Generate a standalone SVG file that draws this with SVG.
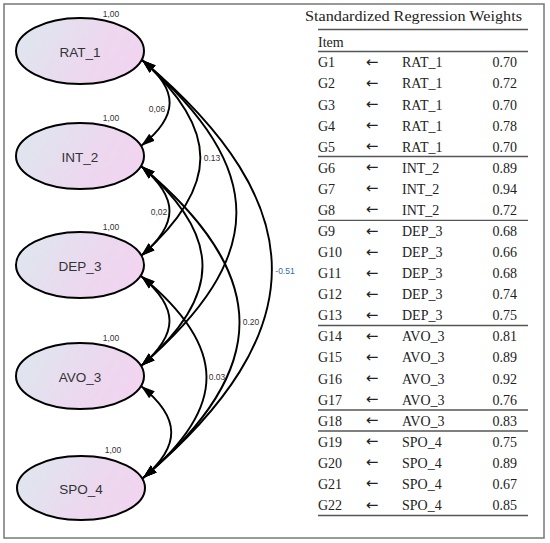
<svg xmlns="http://www.w3.org/2000/svg" width="550" height="543" viewBox="0 0 550 543">
  <defs>
    <linearGradient id="fillGrad" x1="0" y1="0.35" x2="1" y2="0.65">
      <stop offset="0" stop-color="#dfe6ef"/>
      <stop offset="0.6" stop-color="#ecd8ef"/>
      <stop offset="1" stop-color="#f2d4f0"/>
    </linearGradient>
    <marker id="arrow" markerUnits="userSpaceOnUse" markerWidth="15" markerHeight="10" refX="14" refY="5" orient="auto-start-reverse">
      <path d="M0,0.5 L14,5 L0,9.5 z" fill="#000"/>
    </marker>
    <style>
      .node ellipse { fill: url(#fillGrad); stroke: #000; stroke-width: 2; }
      .nlabel { font-family: "Liberation Sans", Arial, sans-serif; font-size: 13.5px; fill: #333; text-anchor: middle; }
      .var { font-family: "Liberation Sans", Arial, sans-serif; font-size: 8.5px; fill: #333; text-anchor: middle; }
      .cov { font-family: "Liberation Sans", Arial, sans-serif; font-size: 8.5px; fill: #333; text-anchor: middle; }
      .neg { fill: #2f6e9e; }
      .conn path { fill: none; stroke: #000; stroke-width: 1.9; marker-start: url(#arrow); marker-end: url(#arrow); }
      .tbl { font-family: "Liberation Serif", "Times New Roman", serif; font-size: 14px; fill: #222; }
      .arr { font-family: "DejaVu Sans", sans-serif; font-size: 15px; fill: #222; text-anchor: middle; }
      .val { text-anchor: end; }
      .rule { stroke: #555; stroke-width: 1.3; }
    </style>
  </defs>

  <rect x="4" y="4" width="540" height="534" fill="#fff" stroke="#777" stroke-width="1.5"/>

  <!-- connectors -->
  <g id="connectors" class="conn">
    <path d="M142,60 C179,90 179,116 141,146"/>
    <path d="M142,60 C220,130 220,186 141,256"/>
    <path d="M142,60 C268,170 268,256 141,366"/>
    <path d="M142,60 C315,206 315,332 143,478"/>
    <path d="M141,166 C179,198 179,224 141,256"/>
    <path d="M141,166 C223,236 223,296 141,366"/>
    <path d="M141,166 C272,275 272,369 143,478"/>
    <path d="M141,276 C179,308 179,334 141,366"/>
    <path d="M141,276 C228,347 228,407 143,478"/>
    <path d="M141,386 C181,418 181,446 143,478"/>
  </g>

  <!-- covariance labels -->
  <g id="cov-labels">
    <text class="cov" x="157" y="112">0,06</text>
    <text class="cov" x="212" y="161">0.13</text>
    <text class="cov" x="159" y="215">0,02</text>
    <text class="cov neg" x="285" y="274">-0.51</text>
    <text class="cov" x="251" y="325">0.20</text>
    <text class="cov" x="217" y="380">0.03</text>
  </g>

  <!-- nodes -->
  <g id="RAT_1" class="node">
    <ellipse cx="80" cy="51" rx="64" ry="33"/>
    <text class="nlabel" x="80" y="57">RAT_1</text>
    <text class="var" x="111" y="17">1,00</text>
  </g>
  <g id="INT_2" class="node">
    <ellipse cx="80" cy="156" rx="64" ry="33"/>
    <text class="nlabel" x="80" y="162">INT_2</text>
    <text class="var" x="111" y="121">1,00</text>
  </g>
  <g id="DEP_3" class="node">
    <ellipse cx="80" cy="265" rx="64" ry="33"/>
    <text class="nlabel" x="80" y="271">DEP_3</text>
    <text class="var" x="111" y="230">1,00</text>
  </g>
  <g id="AVO_3" class="node">
    <ellipse cx="80" cy="376" rx="64" ry="33"/>
    <text class="nlabel" x="80" y="382">AVO_3</text>
    <text class="var" x="111" y="341">1,00</text>
  </g>
  <g id="SPO_4" class="node">
    <ellipse cx="81" cy="488" rx="64" ry="32"/>
    <text class="nlabel" x="81" y="494">SPO_4</text>
    <text class="var" x="113" y="453">1,00</text>
  </g>

  <!-- table -->
  <g id="table">
    <text class="tbl" x="305" y="21" textLength="217" lengthAdjust="spacingAndGlyphs">Standardized Regression Weights</text>
    <line class="rule" x1="318" y1="29.5" x2="528" y2="29.5"/>
    <text class="tbl" x="318" y="46.5">Item</text>
    <line class="rule" x1="318" y1="51.5" x2="528" y2="51.5"/>

    <g class="tbl">
      <text x="318" y="67.3">G1</text><text class="arr" x="372" y="66.8">←</text><text x="402" y="67.3">RAT_1</text><text class="val" x="517" y="67.3">0.70</text>
      <text x="318" y="88.4">G2</text><text class="arr" x="372" y="87.9">←</text><text x="402" y="88.4">RAT_1</text><text class="val" x="517" y="88.4">0.72</text>
      <text x="318" y="109.5">G3</text><text class="arr" x="372" y="109">←</text><text x="402" y="109.5">RAT_1</text><text class="val" x="517" y="109.5">0.70</text>
      <text x="318" y="130.5">G4</text><text class="arr" x="372" y="130">←</text><text x="402" y="130.5">RAT_1</text><text class="val" x="517" y="130.5">0.78</text>
      <text x="318" y="151.6">G5</text><text class="arr" x="372" y="151.1">←</text><text x="402" y="151.6">RAT_1</text><text class="val" x="517" y="151.6">0.70</text>
      <text x="318" y="172.7">G6</text><text class="arr" x="372" y="172.2">←</text><text x="402" y="172.7">INT_2</text><text class="val" x="517" y="172.7">0.89</text>
      <text x="318" y="193.8">G7</text><text class="arr" x="372" y="193.3">←</text><text x="402" y="193.8">INT_2</text><text class="val" x="517" y="193.8">0.94</text>
      <text x="318" y="214.9">G8</text><text class="arr" x="372" y="214.4">←</text><text x="402" y="214.9">INT_2</text><text class="val" x="517" y="214.9">0.72</text>
      <text x="318" y="236.0">G9</text><text class="arr" x="372" y="235.5">←</text><text x="402" y="236.0">DEP_3</text><text class="val" x="517" y="236.0">0.68</text>
      <text x="318" y="257.0">G10</text><text class="arr" x="372" y="256.5">←</text><text x="402" y="257.0">DEP_3</text><text class="val" x="517" y="257.0">0.66</text>
      <text x="318" y="278.1">G11</text><text class="arr" x="372" y="277.6">←</text><text x="402" y="278.1">DEP_3</text><text class="val" x="517" y="278.1">0.68</text>
      <text x="318" y="299.2">G12</text><text class="arr" x="372" y="298.7">←</text><text x="402" y="299.2">DEP_3</text><text class="val" x="517" y="299.2">0.74</text>
      <text x="318" y="320.3">G13</text><text class="arr" x="372" y="319.8">←</text><text x="402" y="320.3">DEP_3</text><text class="val" x="517" y="320.3">0.75</text>
      <text x="318" y="341.4">G14</text><text class="arr" x="372" y="340.9">←</text><text x="402" y="341.4">AVO_3</text><text class="val" x="517" y="341.4">0.81</text>
      <text x="318" y="362.4">G15</text><text class="arr" x="372" y="361.9">←</text><text x="402" y="362.4">AVO_3</text><text class="val" x="517" y="362.4">0.89</text>
      <text x="318" y="383.5">G16</text><text class="arr" x="372" y="383">←</text><text x="402" y="383.5">AVO_3</text><text class="val" x="517" y="383.5">0.92</text>
      <text x="318" y="404.6">G17</text><text class="arr" x="372" y="404.1">←</text><text x="402" y="404.6">AVO_3</text><text class="val" x="517" y="404.6">0.76</text>
      <text x="318" y="425.7">G18</text><text class="arr" x="372" y="425.2">←</text><text x="402" y="425.7">AVO_3</text><text class="val" x="517" y="425.7">0.83</text>
      <text x="318" y="446.8">G19</text><text class="arr" x="372" y="446.3">←</text><text x="402" y="446.8">SPO_4</text><text class="val" x="517" y="446.8">0.75</text>
      <text x="318" y="467.8">G20</text><text class="arr" x="372" y="467.3">←</text><text x="402" y="467.8">SPO_4</text><text class="val" x="517" y="467.8">0.89</text>
      <text x="318" y="488.9">G21</text><text class="arr" x="372" y="488.4">←</text><text x="402" y="488.9">SPO_4</text><text class="val" x="517" y="488.9">0.67</text>
      <text x="318" y="510.0">G22</text><text class="arr" x="372" y="509.5">←</text><text x="402" y="510.0">SPO_4</text><text class="val" x="517" y="510.0">0.85</text>
    </g>

    <line class="rule" x1="318" y1="156.5" x2="528" y2="156.5"/>
    <line class="rule" x1="318" y1="220.3" x2="528" y2="220.3"/>
    <line class="rule" x1="318" y1="325.5" x2="528" y2="325.5"/>
    <line class="rule" x1="318" y1="410" x2="528" y2="410"/>
    <line class="rule" x1="318" y1="431" x2="528" y2="431"/>
    <line class="rule" x1="318" y1="515.5" x2="528" y2="515.5"/>
  </g>
</svg>
